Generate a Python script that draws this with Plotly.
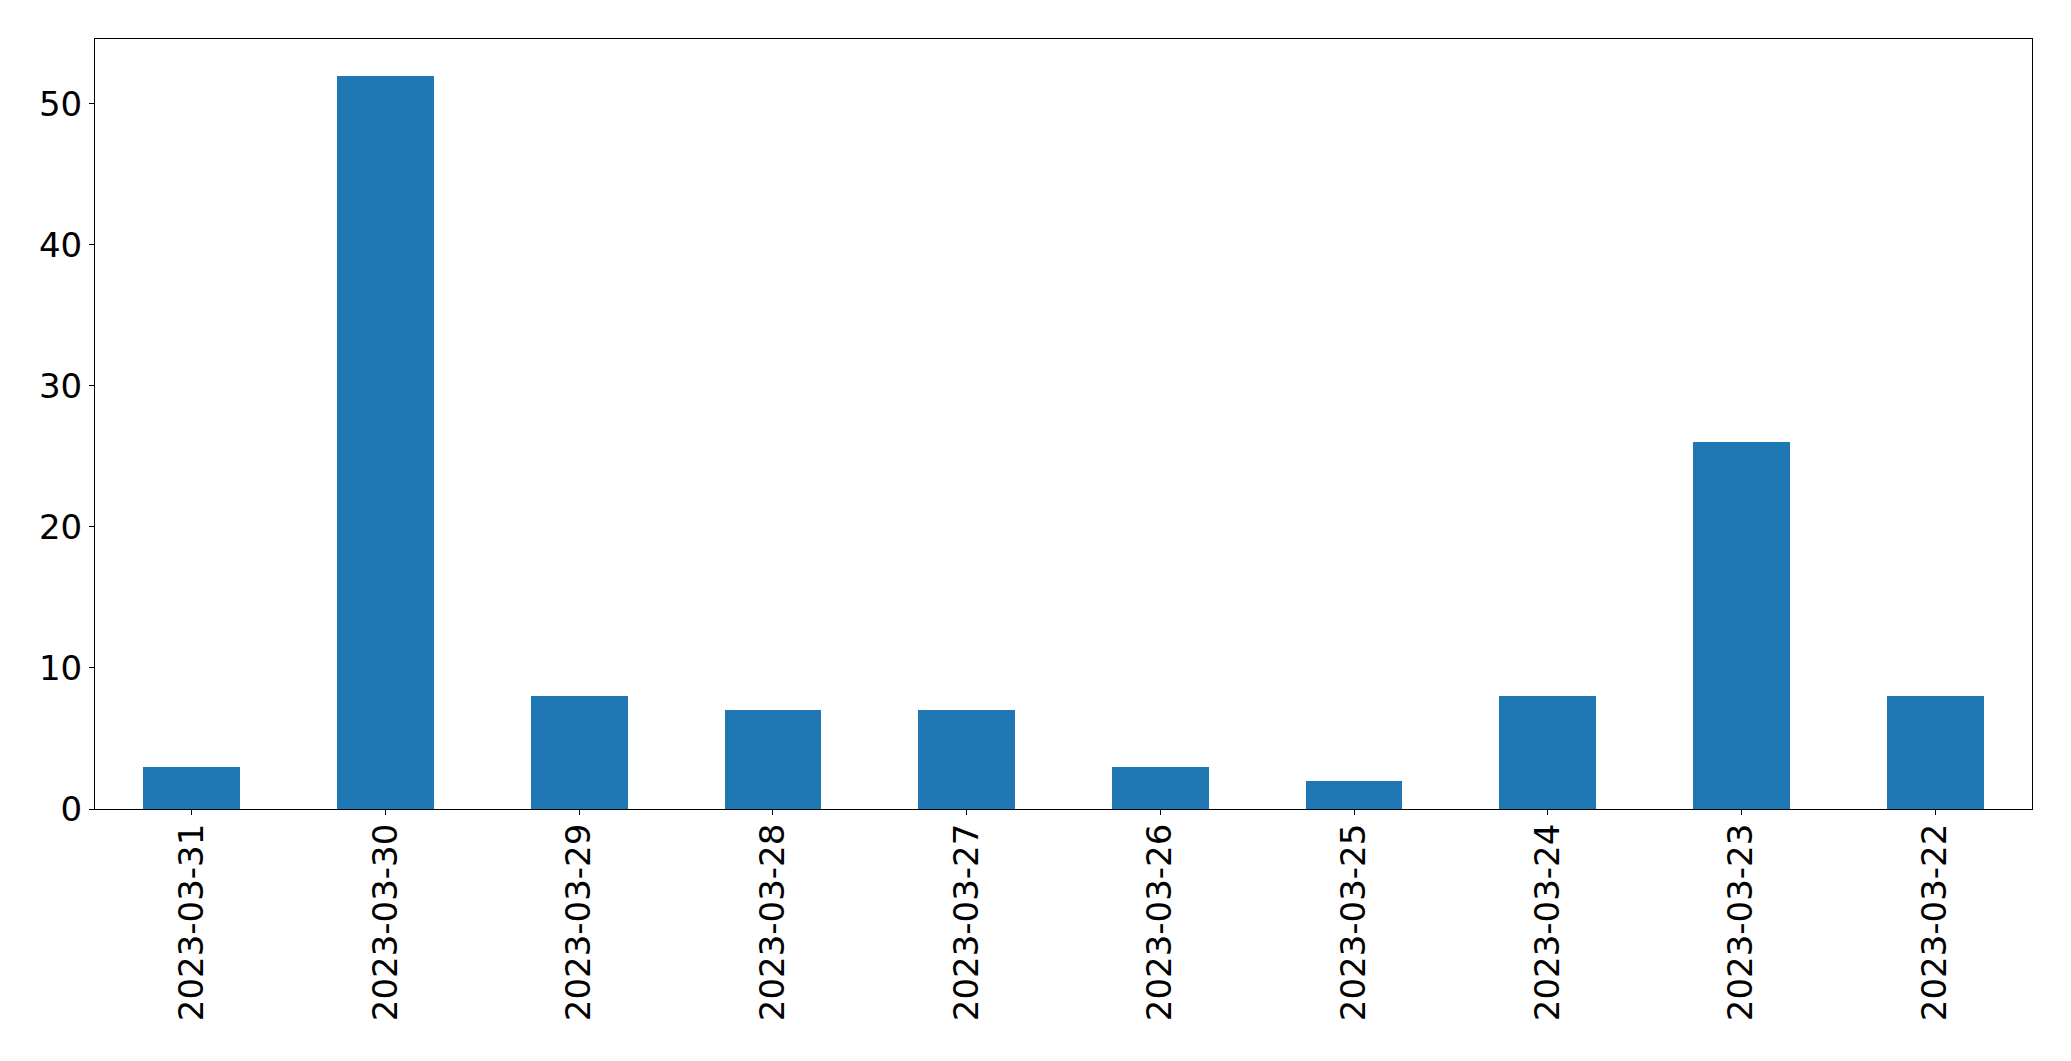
import plotly.graph_objects as go

dates = ["2023-03-31", "2023-03-30", "2023-03-29", "2023-03-28", "2023-03-27",
         "2023-03-26", "2023-03-25", "2023-03-24", "2023-03-23", "2023-03-22"]
counts = [3, 52, 8, 7, 7, 3, 2, 8, 26, 8]
y_ticks = [0, 10, 20, 30, 40, 50]

fig = go.Figure(go.Bar(x=dates, y=counts, width=0.5, marker=dict(color="#1f77b4", line=dict(width=0))))

# page body has an 8px default margin, so margins are offset to compensate
fig.update_layout(
    width=2071, height=1061,
    margin=dict(l=87, r=47, t=31, b=260, autoexpand=False),
    paper_bgcolor="white", plot_bgcolor="white",
    font=dict(family="DejaVu Sans", size=34, color="black"),
    showlegend=False,
    bargap=0,
)
fig.update_xaxes(
    type="category", range=[-0.5, 9.5], automargin=False,
    tickangle=-90, ticks="outside", ticklen=5, tickwidth=1.1, tickcolor="black",
    ticklabelstandoff=-5,
    showline=True, linecolor="black", linewidth=1.1, mirror=True,
    showgrid=False, zeroline=False,
)
fig.update_yaxes(
    range=[0, 54.6], tickvals=y_ticks, automargin=False,
    ticks="outside", ticklen=5, tickwidth=1.1, tickcolor="black",
    showline=True, linecolor="black", linewidth=1.1, mirror=True,
    showgrid=False, zeroline=False,
)
fig.write_html("out.html")
